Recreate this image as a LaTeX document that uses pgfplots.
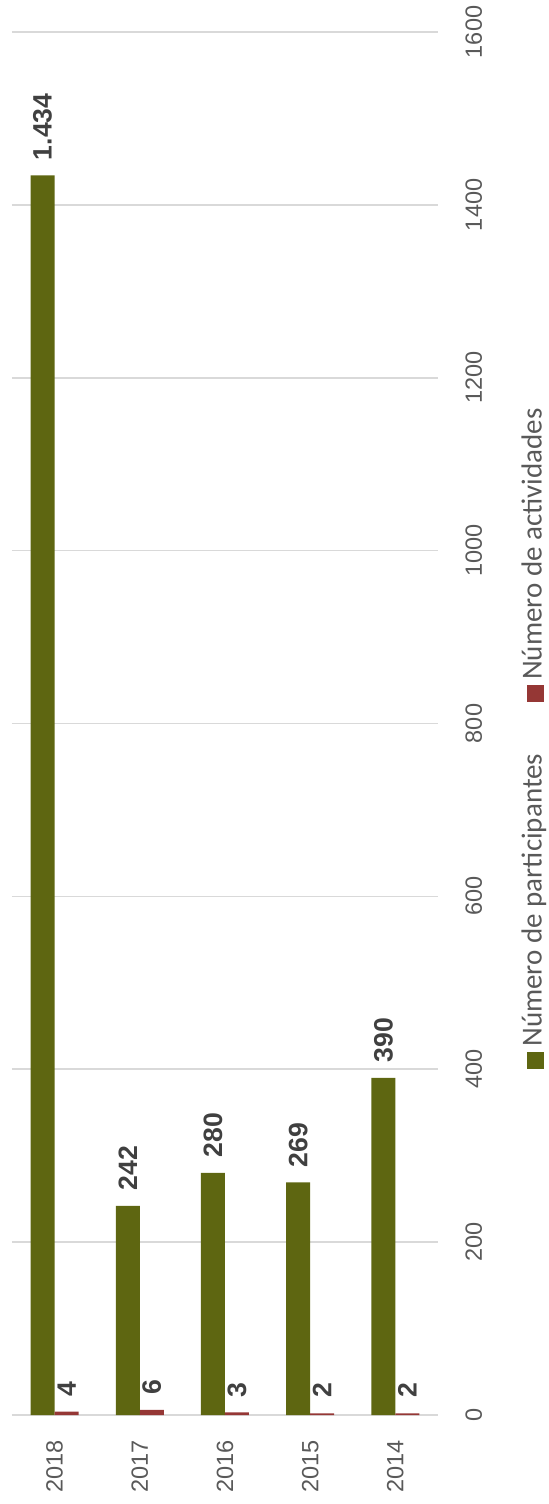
\documentclass[border=0pt]{standalone}
\usepackage{fontspec}
\setmainfont{Carlito}
\newfontfamily\arial{Liberation Sans}
\usepackage{pgfplots}
\pgfplotsset{compat=1.18}
\definecolor{cgreen}{HTML}{5E6611}
\definecolor{cred}{HTML}{953735}
\definecolor{cgrid}{HTML}{D9D9D9}
\definecolor{ctext}{HTML}{595959}
\definecolor{clabel}{HTML}{404040}
\begin{document}
\begin{tikzpicture}
\begin{axis}[
  name=ax,
  scale only axis, width=213pt, height=691.5pt,
  ybar=0pt, bar width=12pt,
  xmin=-0.5, xmax=4.5, ymin=0, ymax=1600,
  xtick={0,1,2,3,4}, xticklabels={2018,2017,2016,2015,2014},
  ytick={0,200,...,1600},
  axis line style={draw=none},
  major tick length=0pt,
  ymajorgrids, grid style={cgrid, line width=0.8pt},
  yticklabel pos=right,
  /pgf/number format/1000 sep={},
  /pgf/number format/assume math mode=true,
  xticklabel style={rotate=90, anchor=east, inner sep=0pt, text=ctext, font=\arial\fontsize{11.75}{13}\selectfont},
  yticklabel style={rotate=90, anchor=north, inner sep=0pt, text=ctext, font=\arial\fontsize{11.75}{13}\selectfont},
  xticklabel shift=12.5pt,
  yticklabel shift=13.5pt,
  nodes near coords,
  every node near coord/.append style={rotate=90, anchor=west, inner xsep=7.5pt, inner ysep=0pt, text=clabel,
     font=\arial\fontsize{13.3}{15}\selectfont\bfseries, /pgf/number format/1000 sep={.}},
]
\addplot[fill=cgreen, draw=none] coordinates {(0,1434) (1,242) (2,280) (3,269) (4,390)};
\addplot[fill=cred, draw=none] coordinates {(0,4) (1,6) (2,3) (3,2) (4,2)};
\end{axis}
\node[rotate=90, anchor=center, inner sep=0pt, text=ctext, font=\fontsize{14.5}{16}\selectfont]
  at ([xshift=48pt,yshift=-7.5pt]ax.east)
  {\textcolor{cgreen}{\rule[-1pt]{8.5pt}{8.5pt}}\hspace{2.5pt}Número de participantes\hspace{26pt}\textcolor{cred}{\rule[-1pt]{8.5pt}{8.5pt}}\hspace{2.5pt}Número de actividades};
\pgfresetboundingbox
\path (-6pt,-44.5pt) rectangle (268.5pt,707.5pt);
\end{tikzpicture}
\end{document}
